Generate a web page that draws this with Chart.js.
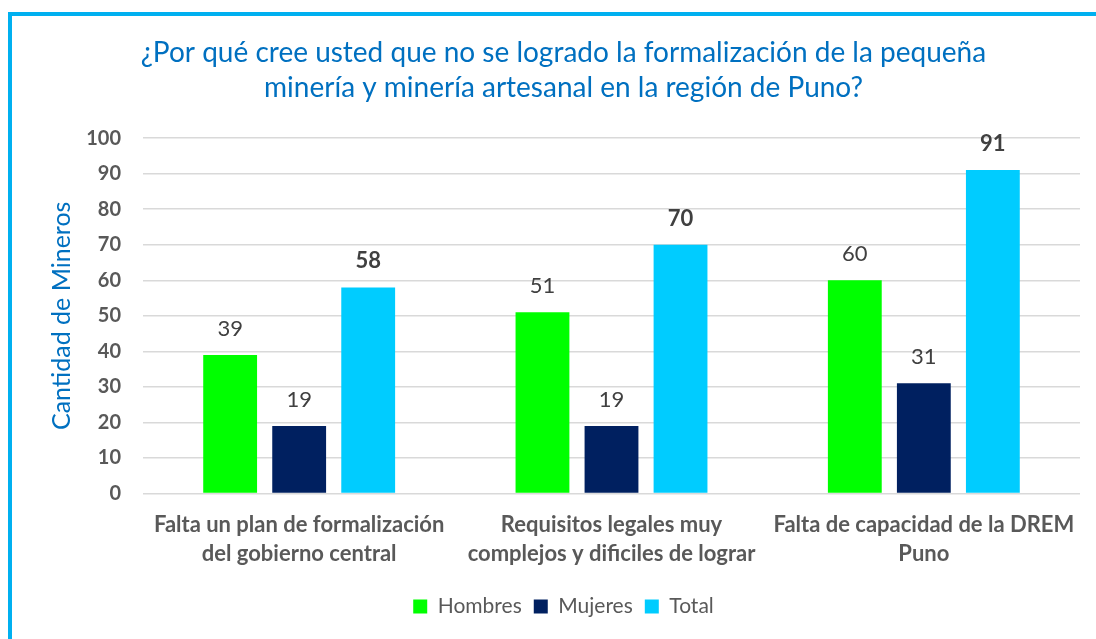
<!DOCTYPE html>
<html>
<head>
<meta charset="utf-8">
<script src="https://cdn.jsdelivr.net/npm/chart.js@4/dist/chart.umd.min.js"></script>
<style>
  body { margin: 0; background: #fff; }
  #wrap { position: relative; width: 1096px; height: 639px; overflow: hidden; }
  #frame { position: absolute; left: 8px; top: 12px; width: 1200px; height: 800px; border: 4px solid #00b0f0; }
  #chart { position: absolute; left: 0; top: 0; }
</style>
</head>
<body>
<div id="wrap">
  <div id="frame"></div>
  <canvas id="chart" width="1096" height="639"></canvas>
</div>
<script>
const categories = [
    ['Falta un plan de formalización', 'del gobierno central'],
    ['Requisitos legales muy', 'complejos y dificiles de lograr'],
    ['Falta de capacidad de la DREM', 'Puno'],
];
const hombres = [39, 51, 60];
const mujeres = [19, 19, 31];
const total = [58, 70, 91];

const FONT = 'Lato, "Noto Sans", sans-serif';

// draws the number above each bar
const barValues = {
    id: 'barValues',
    afterDatasetsDraw(chart) {
        const ctx = chart.ctx;
        ctx.save();
        ctx.textAlign = 'center';
        ctx.textBaseline = 'middle';
        chart.data.datasets.forEach((ds, i) => {
            const meta = chart.getDatasetMeta(i);
            ctx.fillStyle = '#404040';
            ctx.font = (ds.label === 'Total' ? 'bold ' : '') + '22px ' + FONT;
            meta.data.forEach((bar, j) => {
                ctx.fillText(ds.data[j], bar.x, bar.y - 26);
            });
        });
        ctx.restore();
    },
};

new Chart(document.getElementById('chart'), {
    type: 'bar',
    data: {
        labels: categories,
        datasets: [
            { label: 'Hombres', data: hombres, backgroundColor: '#00ff00' },
            { label: 'Mujeres', data: mujeres, backgroundColor: '#002060' },
            { label: 'Total', data: total, backgroundColor: '#00ccff' },
        ],
    },
    options: {
        responsive: false,
        animation: false,
        categoryPercentage: 0.663,
        barPercentage: 0.78,
        layout: { padding: { left: 47, right: 16, top: 20, bottom: 12 } },
        plugins: {
            title: {
                display: true,
                text: [
                    '¿Por qué cree usted que no se logrado la formalización de la pequeña',
                    'minería y minería artesanal en la región de Puno?',
                ],
                color: '#0070c0',
                font: { family: FONT, size: 28, weight: 'normal', lineHeight: 1.27 },
                padding: { top: 15, bottom: 32 },
            },
            legend: {
                position: 'bottom',
                labels: {
                    color: '#595959',
                    font: { family: FONT, size: 21 },
                    boxWidth: 14,
                    boxHeight: 14,
                    padding: 12,
                },
            },
            tooltip: { enabled: false },
        },
        scales: {
            x: {
                afterFit(scale) { scale.height = 90.5; },
                grid: { display: false, drawTicks: false },
                border: { display: false },
                ticks: {
                    color: '#595959',
                    font: { family: FONT, size: 22, weight: 'bold', lineHeight: 1.32 },
                    padding: 16.5,
                    maxRotation: 0,
                },
            },
            y: {
                min: 0,
                max: 100,
                afterFit(scale) { scale.width = 96; },
                grid: { color: '#d9d9d9', lineWidth: 1.5, drawTicks: false },
                border: { display: false },
                ticks: {
                    stepSize: 10,
                    color: '#595959',
                    font: { family: FONT, size: 20, weight: 'bold' },
                    padding: 22,
                },
                title: {
                    display: true,
                    text: 'Cantidad de Mineros',
                    color: '#0070c0',
                    font: { family: FONT, size: 25 },
                    padding: 0,
                },
            },
        },
    },
    plugins: [barValues],
});
</script>
</body>
</html>
